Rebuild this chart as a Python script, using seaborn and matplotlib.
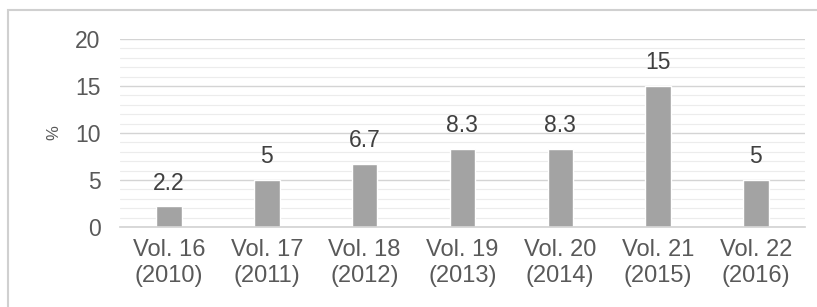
import matplotlib
matplotlib.use("Agg")
import matplotlib.pyplot as plt
import seaborn as sns
import pandas as pd
from matplotlib.patches import Rectangle
from matplotlib.ticker import MultipleLocator

categories = ["Vol. 16\n(2010)", "Vol. 17\n(2011)", "Vol. 18\n(2012)", "Vol. 19\n(2013)",
              "Vol. 20\n(2014)", "Vol. 21\n(2015)", "Vol. 22\n(2016)"]
values = [2.2, 5, 6.7, 8.3, 8.3, 15, 5]
labels = ["2.2", "5", "6.7", "8.3", "8.3", "15", "5"]
yticks = [0, 5, 10, 15, 20]

sns.set_theme(style="white")
plt.rcParams['font.family'] = ['Liberation Sans', 'DejaVu Sans']

df = pd.DataFrame({"cat": categories, "val": values})
fig = plt.figure(figsize=(8.17, 3.07), dpi=100)
ax = fig.add_axes([0.147, 0.2606, 0.838, 0.6124])

ax.yaxis.set_minor_locator(MultipleLocator(1))
ax.set_yticks(yticks)
ax.set_ylim(0, 20)
ax.grid(which="major", axis="y", color="#d4d4d4", lw=1.0)
ax.grid(which="minor", axis="y", color="#ececec", lw=0.8)
ax.set_axisbelow(True)

sns.barplot(data=df, x="cat", y="val", color="#a3a3a3", width=0.26, ax=ax, saturation=1)
ax.set_xlim(-0.5, 6.5)
ax.set_ylim(0, 20)

for i, (v, t) in enumerate(zip(values, labels)):
    ax.annotate(t, (i, v), xytext=(0, 8.5), textcoords="offset points", ha="center", va="bottom",
                fontsize=16.5, color="#404040")

for s in ["top", "right", "left"]:
    ax.spines[s].set_visible(False)
ax.spines["bottom"].set_color("#d4d4d4")
ax.tick_params(axis="both", which="both", length=0, labelcolor="#595959")
ax.tick_params(axis="y", pad=14, labelsize=16.5)
ax.tick_params(axis="x", pad=9, labelsize=17)
for lbl in ax.get_xticklabels():
    lbl.set_linespacing(1.2)
ax.set_xlabel("")
ax.set_ylabel("%", fontsize=12, color="#595959", labelpad=10)

fig.patches.append(Rectangle((8/817, -0.1), 1.2, 1 - 10/307 + 0.1, transform=fig.transFigure,
                             fill=False, edgecolor="#d0d0d0", lw=1.5))

fig.savefig("out.png", dpi=100)
